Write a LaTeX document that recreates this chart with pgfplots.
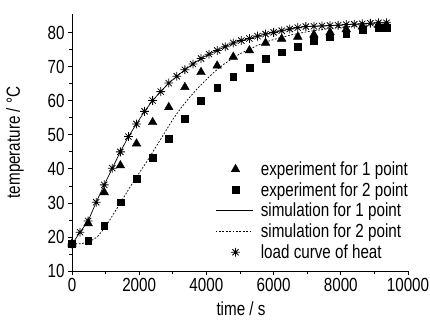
\documentclass[border=0pt]{standalone}
\usepackage{pgfplots}
\pgfplotsset{compat=1.18}
\usepackage{pgfplotstable}
\usepackage{fontspec}
\setmainfont{Liberation Sans}[FakeStretch=0.8]

\pgfdeclareplotmark{star8}{%
  \pgfpathmoveto{\pgfqpoint{-\pgfplotmarksize}{0pt}}%
  \pgfpathlineto{\pgfqpoint{\pgfplotmarksize}{0pt}}%
  \pgfpathmoveto{\pgfqpoint{0pt}{-\pgfplotmarksize}}%
  \pgfpathlineto{\pgfqpoint{0pt}{\pgfplotmarksize}}%
  \pgfpathmoveto{\pgfqpoint{-0.707\pgfplotmarksize}{-0.707\pgfplotmarksize}}%
  \pgfpathlineto{\pgfqpoint{0.707\pgfplotmarksize}{0.707\pgfplotmarksize}}%
  \pgfpathmoveto{\pgfqpoint{-0.707\pgfplotmarksize}{0.707\pgfplotmarksize}}%
  \pgfpathlineto{\pgfqpoint{0.707\pgfplotmarksize}{-0.707\pgfplotmarksize}}%
  \pgfusepathqstroke}

\pgfplotsset{
  marklegend/.style={legend image code/.code={\draw[##1] plot coordinates {(20bp,0bp)};}},
  linelegend/.style={legend image code/.code={\draw[##1] (0bp,0bp) -- (37bp,0bp);}},
}

\pgfplotstableread{
x y
0 18.0
480 24.0
960 33.1
1440 41.0
1920 47.4
2400 53.7
2880 58.1
3360 64.0
3840 68.4
4320 70.3
4800 72.9
5280 74.8
5760 77.0
6240 78.2
6720 78.8
7200 79.4
7680 80.1
8160 81.0
8640 81.8
9120 82.3
9360 82.3
}\expone

\pgfplotstableread{
x y
0 18.0
480 18.8
960 23.3
1440 30.2
1920 37.0
2400 43.3
2880 48.9
3360 54.7
3840 60.1
4320 63.9
4800 67.1
5280 69.8
5760 72.3
6240 74.3
6720 76.0
7200 77.6
7680 78.7
8160 79.7
8640 80.9
9120 81.4
9360 81.4
}\exptwo

\pgfplotstableread{
x y
0 17.9
240 21.4
480 24.7
720 30.2
960 35.3
1200 40.2
1440 45.0
1680 49.5
1920 53.2
2160 56.9
2400 60.1
2640 62.7
2880 65.2
3120 67.2
3360 69.1
3600 70.8
3840 72.4
4080 73.7
4320 74.8
4560 75.9
4800 77.0
5040 77.7
5280 78.3
5520 79.0
5760 79.6
6000 80.1
6240 80.6
6480 81.1
6720 81.5
6960 81.8
7200 81.9
7440 82.0
7680 82.1
7920 82.2
8160 82.4
8400 82.5
8640 82.6
8880 82.8
9120 82.9
9360 82.9
}\load

\pgfplotstableread{
x y
0 18.0
250 18.0
500 18.5
750 20.0
1000 23.0
1250 27.0
1500 31.0
1750 35.0
2000 38.8
2250 42.5
2500 46.5
2750 50.5
3000 54.5
3250 58.0
3500 61.0
3750 63.8
4000 66.3
4250 68.6
4500 70.6
4750 72.3
5000 73.8
5250 75.0
5500 76.2
5750 77.2
6000 78.0
6500 79.3
7000 80.3
7500 81.0
8000 81.6
8500 82.0
9000 82.4
9400 82.6
}\simtwo

\begin{document}
\begin{tikzpicture}[font=\fontsize{19bp}{21bp}\selectfont]
\useasboundingbox (-72bp,-49bp) rectangle (358bp,271bp);
\begin{axis}[
  scale only axis,
  width=336bp, height=257bp,
  xmin=0, xmax=10000, ymin=10, ymax=85.5,
  axis x line=bottom, axis y line=left,
  axis line style={-, line width=0.8bp},
  xtick={0,2000,4000,6000,8000,10000},
  ytick={10,20,30,40,50,60,70,80},
  minor tick num=1,
  tick align=outside,
  major tick length=4bp, minor tick length=3bp,
  tick style={line width=0.8bp, black},
  /pgf/number format/assume math mode=true,
  scaled x ticks=false,
  xticklabel style={/pgf/number format/1000 sep={}},
  xlabel={time / s},
  ylabel={temperature / °C},
  xlabel style={at={(axis description cs:0.503,-0.148)}, anchor=center},
  ylabel style={at={(axis description cs:-0.1696,0.5)}, anchor=center},
  legend style={at={(axis description cs:1.015,0.027)}, anchor=south east, draw=none, fill=none,
    row sep=1.5bp, font=\fontsize{19bp}{21bp}\selectfont,
    /tikz/every odd column/.append style={column sep=6bp}},
  legend cell align=left,
]
\addplot[only marks, mark=triangle*, mark size=5bp, black, marklegend]
  table {\expone};
\addlegendentry{experiment for 1 point}
\addplot[only marks, mark=square*, mark size=3.4bp, black, marklegend]
  table {\exptwo};
\addlegendentry{experiment for 2 point}
\addplot[black, line width=0.7bp, no marks, linelegend]
  table {\load};
\addlegendentry{simulation for 1 point}
\addplot[black, line width=0.7bp, no marks, dash pattern=on 1.8bp off 1.6bp, linelegend]
  table {\simtwo};
\addlegendentry{simulation for 2 point}
\addplot[only marks, mark=star8, mark size=4.4bp, black, line width=0.8bp, marklegend]
  table {\load};
\addlegendentry{load curve of heat}
\end{axis}
\end{tikzpicture}
\end{document}
